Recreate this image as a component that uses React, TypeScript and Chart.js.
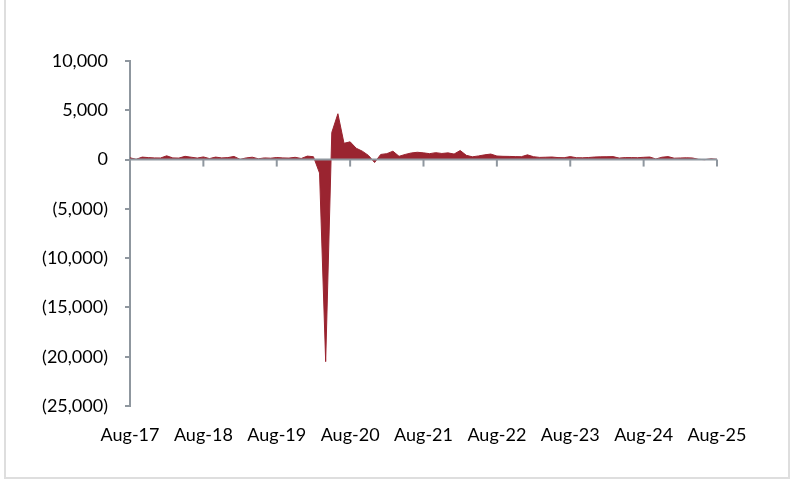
import React, { useEffect, useRef } from "react";
import { Chart, registerables } from "chart.js";

Chart.register(...registerables);

// Monthly change (thousands), Aug-17 .. Aug-25
const monthNames = ["Jan", "Feb", "Mar", "Apr", "May", "Jun", "Jul", "Aug", "Sep", "Oct", "Nov", "Dec"];
const startYear = 2017;
const startMonthIndex = 7; // Aug

const values: number[] = [
  180, 30, 250, 200, 170, // Aug-17..Dec-17
  160, 380, 170, 150, 330, 240, 150, 270, 100, 250, 170, 200, // 2018
  320, 20, 170, 240, 80, 170, 140, 210, 170, 150, 230, 110, // 2019
  350, 290, -1370, -20500, 2750, 4650, 1650, 1800, 1150, 850, 420, -300, // 2020
  520, 600, 850, 330, 520, 670, 740, 680, 600, 700, 620, 680, // 2021
  560, 920, 430, 280, 370, 480, 560, 360, 330, 320, 300, 290, // 2022
  480, 290, 220, 240, 260, 200, 190, 300, 190, 180, 210, 260, // 2023
  280, 290, 300, 150, 200, 200, 190, 230, 260, 60, 240, 300, // 2024
  140, 160, 180, 160, 20, -10, 80, 30, // 2025 Jan..Aug
];

const labels: string[] = values.map((_, i) => {
  const m = startMonthIndex + i;
  const y = startYear + Math.floor(m / 12);
  return `${monthNames[m % 12]}-${String(y % 100).padStart(2, "0")}`;
});

const yMin = -25000;
const yMax = 10000;
const yStep = 5000;
const labelEvery = 12;

const AXIS_GRAY = "#8f979f";
const FILL = "#9a2430";
const FONT = "Lato";

function fmt(v: number): string {
  const s = Math.abs(v).toLocaleString("en-US");
  return v < 0 ? `(${s})` : s;
}

const zeroAxisPlugin = {
  id: "zeroAxis",
  afterDatasetsDraw(chart: any) {
    const { ctx, chartArea, scales } = chart;
    const y0 = scales.y.getPixelForValue(0);
    ctx.save();
    ctx.strokeStyle = AXIS_GRAY;
    ctx.lineWidth = 2;
    ctx.beginPath();
    ctx.moveTo(chartArea.left, y0);
    ctx.lineTo(chartArea.right, y0);
    ctx.stroke();
    for (let i = 0; i < labels.length; i += labelEvery) {
      const x = scales.x.getPixelForValue(i);
      ctx.beginPath();
      ctx.moveTo(x, y0);
      ctx.lineTo(x, y0 + 7);
      ctx.stroke();
    }
    ctx.restore();
  },
};

export default function App() {
  const ref = useRef<HTMLCanvasElement | null>(null);

  useEffect(() => {
    if (!ref.current) return;
    const chart = new Chart(ref.current, {
      type: "line",
      data: {
        labels,
        datasets: [
          {
            data: values,
            borderColor: FILL,
            backgroundColor: FILL,
            borderWidth: 1,
            pointRadius: 0,
            tension: 0,
            fill: "origin",
          },
        ],
      },
      options: {
        responsive: false,
        animation: false,
        layout: { padding: { top: 61, right: 79, bottom: 35, left: 0 } },
        plugins: { legend: { display: false }, tooltip: { enabled: false } },
        scales: {
          x: {
            type: "category",
            offset: false,
            grid: { display: false, drawTicks: false },
            border: { display: false },
            ticks: {
              autoSkip: false,
              maxRotation: 0,
              minRotation: 0,
              padding: 18,
              color: "#000",
              font: { family: FONT, size: 18 },
              callback: (_v: any, i: number) => (i % labelEvery === 0 ? labels[i] : null),
            },
            afterFit: (s: any) => {
              s.height = 40;
            },
          },
          y: {
            min: yMin,
            max: yMax,
            grid: {
              drawOnChartArea: false,
              drawTicks: true,
              tickLength: 5,
              color: AXIS_GRAY,
              lineWidth: 2,
            },
            border: { display: true, color: AXIS_GRAY, width: 2 },
            ticks: {
              stepSize: yStep,
              padding: 17,
              color: "#000",
              font: { family: FONT, size: 18 },
              callback: (v: any) => fmt(Number(v)),
            },
            afterFit: (s: any) => {
              s.width = 130;
            },
          },
        },
      },
      plugins: [zeroAxisPlugin],
    });
    return () => chart.destroy();
  }, []);

  return (
    <div style={{ position: "absolute", left: 0, top: 0, width: 796, height: 481, background: "#fff" }}>
      <div
        style={{
          position: "absolute",
          left: 4,
          top: -2,
          width: 786,
          height: 481,
          border: "2px solid #dedede",
          boxSizing: "border-box",
        }}
      />
      <canvas ref={ref} width={796} height={481} style={{ position: "absolute", left: 0, top: 0 }} />
    </div>
  );
}
